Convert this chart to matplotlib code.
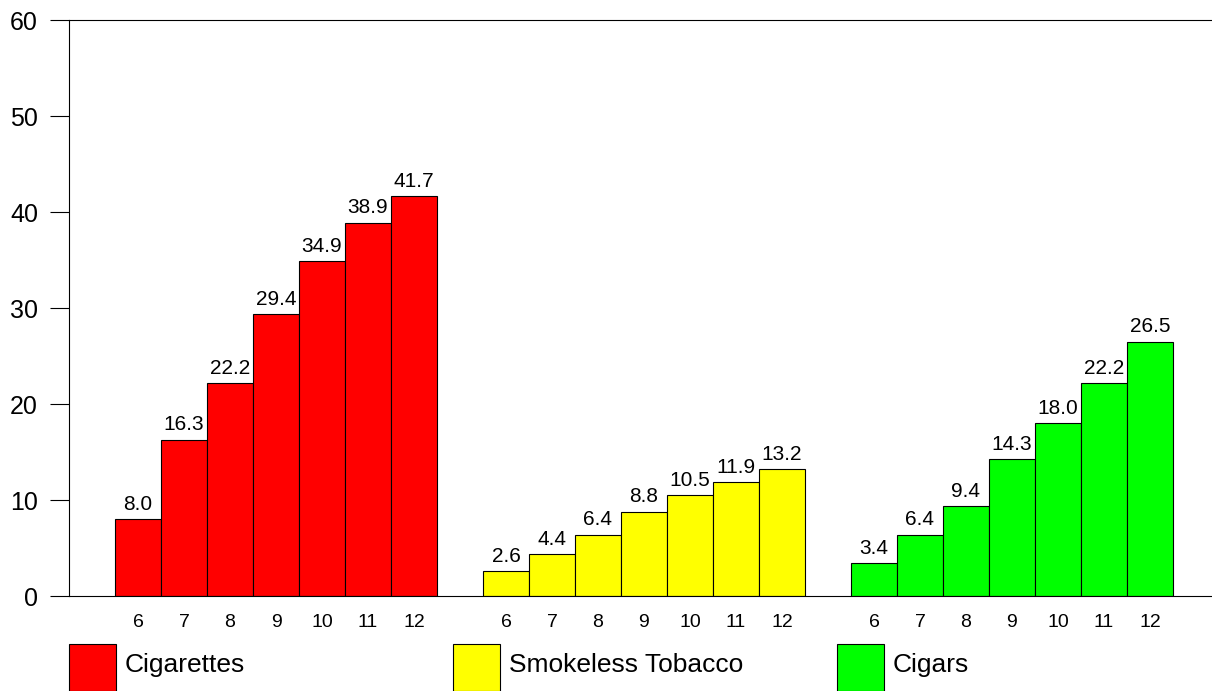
import matplotlib
matplotlib.use("Agg")
import matplotlib.pyplot as plt
from matplotlib.patches import Rectangle

plt.rcParams['font.family'] = ['Liberation Sans', 'DejaVu Sans']

grades = ["6", "7", "8", "9", "10", "11", "12"]
series_names = ["Cigarettes", "Smokeless Tobacco", "Cigars"]
cigarettes = [8.0, 16.3, 22.2, 29.4, 34.9, 38.9, 41.7]
smokeless = [2.6, 4.4, 6.4, 8.8, 10.5, 11.9, 13.2]
cigars = [3.4, 6.4, 9.4, 14.3, 18.0, 22.2, 26.5]
colors = ["#ff0000", "#ffff00", "#00ff00"]
y_ticks = [0, 10, 20, 30, 40, 50, 60]

W, H = 1212, 691
fig = plt.figure(figsize=(W / 100, H / 100), dpi=100)
ax = fig.add_axes([69 / W, (H - 596) / H, (W - 69) / W, 576 / H])

xs_all, labels_all = [], []
for g, (vals, col) in enumerate(zip([cigarettes, smokeless, cigars], colors)):
    xs = [1 + g * 8 + j + 0.5 for j in range(len(vals))]
    ax.bar(xs, vals, width=1.0, color=col, edgecolor="black", linewidth=0.8, zorder=2)
    for x, v in zip(xs, vals):
        ax.text(x, v + 0.95, f"{v:.1f}", ha="center", va="baseline", fontsize=15, color="black")
    xs_all += xs
    labels_all += grades

ax.set_xlim(0, (W - 69) / 46)
ax.set_ylim(0, 60)
ax.set_yticks(y_ticks)
ax.set_yticklabels([str(t) for t in y_ticks], fontsize=18)
ax.tick_params(axis="y", direction="out", length=13.7, width=0.8, pad=8.6)
ax.set_xticks(xs_all)
ax.set_xticklabels(labels_all, fontsize=14)
ax.tick_params(axis="x", length=0, pad=13)
ax.spines["right"].set_visible(False)
for s in ["left", "top", "bottom"]:
    ax.spines[s].set_linewidth(0.8)

# legend
for i, (name, col) in enumerate(zip(series_names, colors)):
    x0 = 69 + i * 384
    fig.add_artist(Rectangle((x0 / W, 0 / H), 47 / W, 47 / H, transform=fig.transFigure,
                             facecolor=col, edgecolor="black", linewidth=0.8))
    fig.text((x0 + 56) / W, (H - 665) / H, name, ha="left", va="center", fontsize=19)

fig.savefig("out.png", dpi=100)
